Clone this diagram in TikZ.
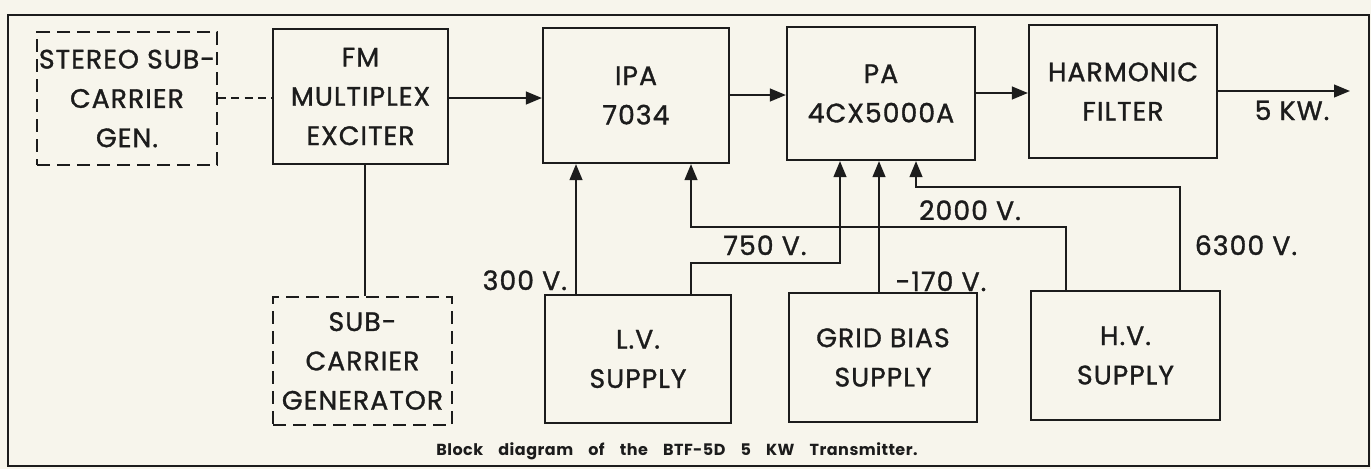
\documentclass[tikz,border=0pt]{standalone}
\usepackage{fontspec}
\setmainfont{Poppins}[LetterSpace=4, FakeBold=1.2]
\newfontfamily\capfont{Poppins}[BoldFont={* Bold}, LetterSpace=3]
\usetikzlibrary{arrows.meta}
\definecolor{paper}{HTML}{F7F5EC}
\definecolor{ink}{HTML}{1C1C1C}
\begin{document}
\begin{tikzpicture}[x=0.75pt,y=-0.75pt,
  line width=1.6pt, draw=ink, text=ink,
  blk/.style={draw=ink, rectangle, align=center, inner sep=0pt,
     font=\fontsize{20}{29.5}\selectfont},
  dblk/.style={blk, dash pattern=on 10pt off 5pt},
  lbl/.style={inner sep=0pt, anchor=base, font=\fontsize{20}{22}\selectfont},
  arr/.style={-{Triangle[length=12pt,width=9.5pt]}}]
\fill[paper] (0,0) rectangle (1371,469);
\useasboundingbox (0,0) rectangle (1371,469);
\draw[line width=1.3pt] (8,15) rectangle (1369,466);
% blocks
\node[dblk, minimum width=135pt, minimum height=99.75pt] (st) at (127,98.5) {STEREO SUB-\\CARRIER\\GEN.};
\node[blk, minimum width=131.25pt, minimum height=101.25pt] (fm) at (360.5,96.5) {FM\\MULTIPLEX\\EXCITER};
\node[blk, minimum width=139.5pt, minimum height=101.25pt] (ipa) at (636,95.5) {IPA\\7034};
\node[blk, minimum width=141pt, minimum height=99.75pt] (pa) at (881,93.5) {PA\\4CX5000A};
\node[blk, minimum width=141pt, minimum height=99.75pt] (hf) at (1123,91.5) {HARMONIC\\FILTER};
\node[dblk, minimum width=134.25pt, minimum height=96pt] (sub) at (362.5,361) {SUB-\\CARRIER\\GENERATOR};
\node[blk, minimum width=139.5pt, minimum height=96pt] (lv) at (638,359) {L.V.\\SUPPLY};
\node[blk, minimum width=141pt, minimum height=96.75pt] (gb) at (883,357.5) {GRID BIAS\\SUPPLY};
\node[blk, minimum width=141.75pt, minimum height=96.75pt] (hv) at (1125.5,355.5) {H.V.\\SUPPLY};
\coordinate (out) at (1350,91);
% signal chain
\draw[dash pattern=on 6pt off 4pt] (st.east |- 0,98) -- (fm.west |- 0,98);
\draw[arr] (fm.east |- 0,98) -- (ipa.west |- 0,98);
\draw[arr] (ipa.east |- 0,95) -- (pa.west |- 0,95);
\draw[arr] (pa.east |- 0,93) -- (hf.west |- 0,93);
\draw[arr] (hf.east |- out) -- (out);
\draw (fm.south -| 365,0) -- (sub.north -| 365,0);
% supplies
\draw[arr] (lv.north -| 576,0) -- (ipa.south -| 576,0);
\draw[arr] (lv.north -| 691,0) -- (691,263) -- (840,263) -- (pa.south -| 840,0);
\draw[arr] (hv.north -| 1066,0) -- (1066,227) -- (691,227) -- (ipa.south -| 691,0);
\draw[arr] (gb.north -| 879,0) -- (pa.south -| 879,0);
\draw[arr] (hv.north -| 1180,0) -- (1180,187) -- (916,187) -- (pa.south -| 916,0);
% labels
\node[lbl, anchor=base east] (l300) at (568,290) {300 V.};
\node[lbl] (l750) at (765,255) {750 V.};
\node[lbl] (l2000) at (970,220) {2000 V.};
\node[lbl] (l6300) at (1246,255) {6300 V.};
\node[lbl] (l170) at (941,291) {-170 V.};
\node[lbl] (l5kw) at (1292,120) {5 KW.};
\node[inner sep=0pt, anchor=base] (cap) at (677,455) {\capfont\bfseries\fontsize{12}{14}\selectfont\makebox[361pt][s]{Block diagram of the BTF-5D 5 KW Transmitter.}};
\end{tikzpicture}
\end{document}
